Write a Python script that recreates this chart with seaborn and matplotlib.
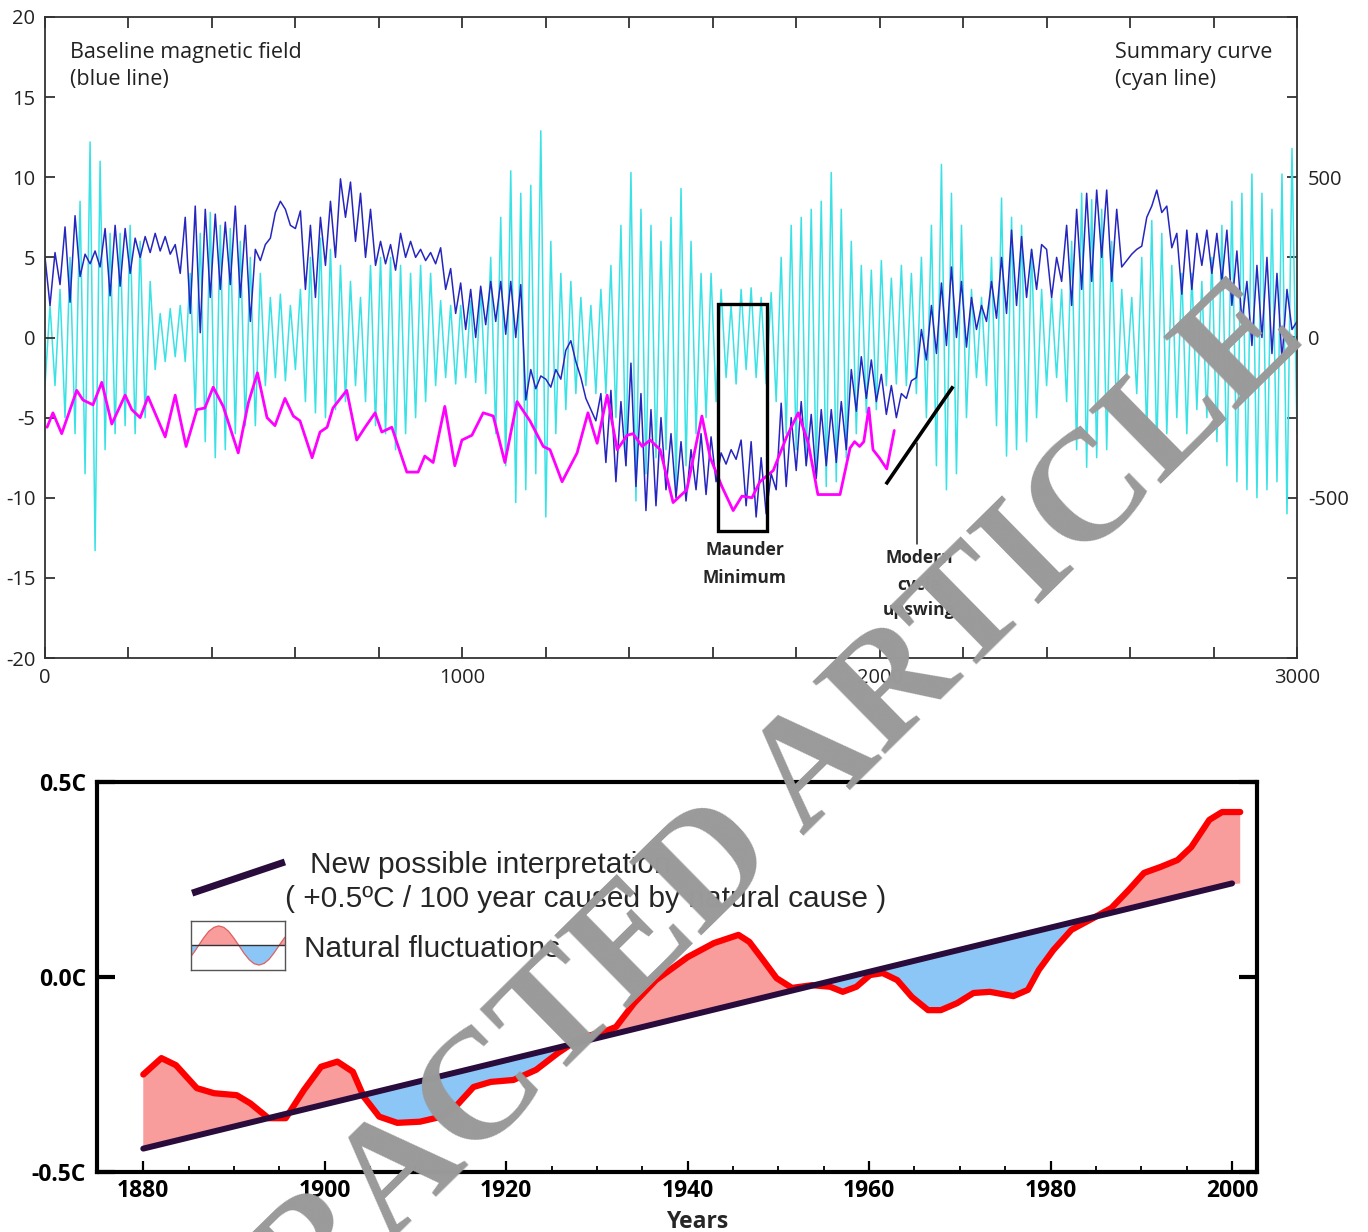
import numpy as np
import matplotlib
matplotlib.use("Agg")
import matplotlib.pyplot as plt
from matplotlib.patches import Rectangle
from matplotlib.lines import Line2D
import seaborn as sns

# ---------------- top panel data ----------------
STEP = 12  # sampling interval of the two oscillating curves (x units)

blue_field = [
    5, 2, 5.3, 3.3, 6.9, 2.2, 7.6, 3.8, 5.2, 4.6, 5.4, 4.4, 6.8, 2.6, 7, 3.2, 6.8, 4, 6.2, 5, 6.3, 5.3, 6.5, 5.4, 6.3,
    5.2, 5.8, 4, 7.5, 1.5, 8.2, 0.3, 8, 2.5, 7.7, 3, 7.2, 3.3, 8.2, 2.5, 7, 1, 5.5, 4.8, 5.8, 6.2, 7.8, 8.5, 8, 7,
    6.8, 7.9, 3, 7, 2.5, 7.5, 4.5, 8.5, 5, 9.9, 7.5, 9.7, 6, 9, 5, 8, 4.5, 6, 4.6, 5.8, 4.2, 6.5, 5, 6, 5,
    5.5, 4.8, 5.3, 4.6, 5.6, 3, 4.3, 1.5, 3.4, 0.5, 3, 0, 3.2, 0.8, 3.5, 1, 3.5, 0.2, 3.5, 0, 3.3, -3.9, -2, -3.2, -2.4,
    -2.6, -3.1, -2, -2.6, -0.8, -0.2, -1.5, -2.5, -3.8, -4.5, -5.2, -3.5, -7.8, -3.3, -9, -4, -8, -1.6, -9.3, -3.5, -10.8, -4.5, -10.5, -5, -9.5,
    -6, -10, -6.5, -10.2, -7, -9.5, -6, -9.8, -6.2, -9, -7.2, -7.9, -7, -7.6, -6.4, -10.5, -6.5, -11.2, -7.5, -11, -8.5, -9.5, -4.1, -9.3, -5,
    -8.3, -4, -8, -4.8, -8.8, -4.5, -8, -4.5, -7.8, -4, -7, -2, -4.6, -1.2, -3.8, -1.4, -4, -2.3, -4.8, -3, -5, -3.5, -3.8, -2.7, -2.5,
    0.5, -1.4, 2, -1, 3.4, -0.5, 4.4, 0, 3.5, -0.6, 2.5, 0.5, 2, 1, 3.5, 1.2, 5, 1.5, 6.7, 2, 6.3, 2.5, 5.5, 3, 5.8,
    5.5, 2.5, 5, 3.5, 7, 2, 8, 3, 9, 3.5, 9.2, 5, 9.2, 3.5, 8, 4.4, 4.8, 5.2, 5.5, 5.7, 7.5, 8.2, 9.2, 7.8, 8.2,
    5.6, 6.5, 2.7, 6.7, 3, 6.5, 4.5, 6.7, 4, 6.5, 3.5, 6.7, 2, 5.4, 1, 3.5, -0.5, 4.5, 0, 5, -1, 4, -1.4, 3, 0.5,
    1,
]

cyan_summary = [
    -150, 100, -150, 150, -250, 250, -300, 425, -425, 610, -665, 550, -350, 325, -300, 325, -275, 350, -300, 300, -250, 175, -100, 75, -75,
    90, -60, 100, -75, 200, -225, 325, -325, 390, -375, 350, -350, 340, -300, 300, -275, 250, -275, 200, -150, 125, -125, 135, -135, 100,
    -100, 150, -200, 250, -235, 310, -250, 275, -225, 225, -200, 175, -150, 125, -200, 225, -275, 250, -300, 250, -350, 225, -300, 200, -250,
    225, -200, 200, -150, 115, -125, 100, -145, 100, -125, 115, -140, 150, -175, 250, -300, 375, -400, 520, -515, 450, -475, 475, -425, 645,
    -560, 300, -300, 200, -225, 175, -175, 125, -150, 100, -175, 150, -175, 225, -250, 350, -400, 515, -510, 400, -425, 350, -375, 300, -350,
    375, -470, 465, -400, 300, -300, 200, -250, 200, -200, 150, -125, 100, -145, 150, -100, 155, -125, 125, -145, 140, -200, 250, -300, 350,
    -350, 375, -400, 400, -425, 425, -465, 515, -450, 400, -375, 300, -300, 225, -235, 210, -225, 240, -150, 185, -145, 225, -150, 200, -175,
    250, -250, 350, -400, 540, -475, 450, -425, 350, -250, 150, -125, 125, -150, 250, -275, 435, -370, 375, -350, 350, -325, 275, -250, 150,
    -150, 125, -125, 150, -200, 300, -350, 450, -405, 430, -375, 400, -350, 300, -250, 150, -125, 125, -175, 250, -300, 365, -350, 325, -300,
    225, -250, 200, -300, 200, -225, 175, -250, 250, -325, 350, -400, 425, -450, 450, -475, 510, -500, 450, -475, 400, -450, 510, -550, 590,
    -300,
]

magenta_x = [5, 19, 40, 76, 91, 115, 136, 160, 192, 208, 228, 247, 288, 312, 338, 364, 383, 403, 427, 463,
             487, 509, 532, 551, 575, 595, 611, 640, 659, 676, 690, 723, 747, 767, 791, 807, 831, 867, 894, 910,
             930, 958, 982, 999, 1023, 1050, 1074, 1102, 1131, 1162, 1194, 1210, 1239, 1275, 1301, 1323, 1347,
             1371, 1395, 1409, 1431, 1450, 1474, 1505, 1538, 1574, 1594, 1622, 1649, 1670, 1694, 1713, 1745,
             1777, 1805, 1829, 1852, 1905, 1929, 1940, 1952, 1962, 1974, 1984, 1999, 2017, 2035]
magenta_y = [-5.6, -4.7, -6.0, -3.3, -3.9, -4.2, -2.8, -5.4, -3.6, -4.5, -5.0, -3.7, -6.2, -3.6, -6.8, -4.5,
             -4.4, -3.1, -4.3, -7.2, -4.1, -2.2, -5.0, -5.5, -3.8, -4.9, -5.2, -7.5, -5.9, -5.6, -4.4, -3.3,
             -6.4, -5.6, -4.7, -5.9, -5.6, -8.4, -8.4, -7.4, -7.8, -4.3, -8.0, -6.4, -6.1, -4.7, -4.9, -7.8,
             -4.0, -5.2, -6.8, -7.0, -9.0, -7.2, -4.7, -6.6, -3.6, -7.0, -6.1, -6.0, -6.8, -6.4, -7.0, -10.3,
             -9.5, -4.9, -7.5, -9.3, -10.8, -9.9, -10.0, -9.0, -8.3, -6.2, -4.7, -6.6, -9.8, -9.8, -6.9, -6.5,
             -6.8, -6.5, -4.4, -7.0, -7.5, -8.2, -5.8]

top_xticks = list(range(0, 3001, 200))
top_xlabels = ['0', '1000', '2000', '3000']
left_yticks = list(range(-20, 21, 5))
right_yticks = list(range(-1000, 1001, 250))
right_ylabels = ['-500', '0', '500']

# ---------------- bottom panel data ----------------
years = [1880, 1882, 1883.6, 1885.9, 1887.8, 1890.3, 1891.8, 1893.8, 1895.7, 1897.7, 1899.6, 1901.4, 1903.1,
         1904.3, 1906, 1908, 1910.5, 1912.9, 1914.4, 1916.4, 1918.3, 1920.8, 1923.3, 1925.7, 1928.2, 1930.7,
         1932.1, 1934.1, 1936.5, 1940, 1942.9, 1945.6, 1946.8, 1948.3, 1949.8, 1951.5, 1953.7, 1955.7, 1957.1,
         1958.6, 1960.1, 1961.5, 1963.1, 1964.7, 1966.5, 1967.9, 1969.7, 1971.5, 1973.3, 1975.9, 1977.5, 1978.7,
         1980.3, 1982.3, 1984.7, 1986.7, 1988.6, 1990.3, 1992.1, 1994, 1995.5, 1997.5, 1998.9, 2000.9]
temps = [-0.25, -0.208, -0.226, -0.285, -0.298, -0.303, -0.324, -0.362, -0.362, -0.29, -0.23, -0.217, -0.243,
         -0.307, -0.358, -0.374, -0.371, -0.358, -0.333, -0.282, -0.269, -0.264, -0.238, -0.195, -0.156, -0.141,
         -0.128, -0.067, -0.008, 0.051, 0.087, 0.108, 0.09, 0.044, -0.003, -0.028, -0.021, -0.025, -0.038,
         -0.025, 0.005, 0.01, -0.008, -0.051, -0.085, -0.085, -0.067, -0.041, -0.038, -0.049, -0.033, 0.018,
         0.069, 0.121, 0.151, 0.177, 0.223, 0.267, 0.282, 0.3, 0.333, 0.403, 0.423, 0.423]
trend_years = [1880, 2000]
trend_vals = [-0.44, 0.24]
bottom_xticks = [1880, 1900, 1920, 1940, 1960, 1980, 2000]
bottom_xlabels = ['1880', '1900', '1920', '1940', '1960', '1980', '2000']
bottom_yticks = [-0.5, 0.0, 0.5]
bottom_ylabels = ['-0.5C', '0.0C', '0.5C']

# legend glyph outline (one wave)
icon_x = [0.0, 0.04, 0.081, 0.135, 0.19, 0.245, 0.295, 0.35, 0.40, 0.455, 0.51, 0.565, 0.62, 0.67,
          0.725, 0.78, 0.83, 0.885, 0.938, 0.97, 1.0]
icon_y = [-0.45, -0.24, 0.0, 0.31, 0.58, 0.74, 0.8, 0.74, 0.58, 0.31, 0.0, -0.32, -0.58, -0.74,
          -0.8, -0.73, -0.57, -0.3, 0.0, 0.18, 0.34]

# ---------------- style ----------------
sns.set_style("white")
plt.rcParams['font.family'] = ['Open Sans', 'DejaVu Sans']
plt.rcParams['axes.linewidth'] = 1.3

C_CYAN = '#3ae2e6'
C_BLUE = '#2626bf'
C_MAG = '#ff00ff'
C_RED = '#ff0000'
C_TREND = '#2a0c3c'
C_POS = '#f89c9c'
C_NEG = '#8cc6f7'

fig = plt.figure(figsize=(13.68, 12.32), dpi=100)
fig.patch.set_facecolor('white')

# ================= top panel =================
ax1 = fig.add_axes([45 / 1368, 1 - 658 / 1232, (1297 - 45) / 1368, (658 - 17) / 1232])
ax2 = ax1.twinx()
ax1.set_zorder(2)
ax2.set_zorder(1)
ax1.patch.set_visible(False)

sample_x = np.arange(len(blue_field)) * STEP

sns.lineplot(x=sample_x, y=cyan_summary, ax=ax2, color=C_CYAN, linewidth=1.1,
             estimator=None, sort=False)
sns.lineplot(x=sample_x, y=blue_field, ax=ax1, color=C_BLUE, linewidth=1.1,
             estimator=None, sort=False)
sns.lineplot(x=magenta_x, y=magenta_y, ax=ax1, color=C_MAG, linewidth=2.0,
             estimator=None, sort=False)

ax1.set_xlim(0, 3000)
ax1.set_ylim(-20, 20)
ax2.set_ylim(-1000, 1000)
ax1.set_xlabel('')
ax1.set_ylabel('')
ax2.set_ylabel('')

ax1.set_xticks(top_xticks)
ax1.set_xticklabels([str(t) if t % 1000 == 0 else '' for t in top_xticks])
ax1.set_yticks(left_yticks)
ax1.set_yticklabels([str(t) for t in left_yticks])
ax2.set_yticks(right_yticks)
ax2.set_yticklabels([str(t) if str(t) in right_ylabels else '' for t in right_yticks])

ax1.tick_params(axis='x', direction='in', top=True, bottom=True, length=8, width=1.3,
                labelsize=14.5, pad=7, colors='#333333', labelcolor='#222222')
ax1.tick_params(axis='y', direction='in', left=True, right=False, length=7, width=1.3,
                labelsize=14.5, pad=7, colors='#333333', labelcolor='#222222')
ax2.tick_params(axis='y', direction='in', right=True, length=7, width=1.3,
                labelsize=14.5, pad=8, colors='#333333', labelcolor='#222222')
for s in ax1.spines.values():
    s.set_color('#333333')
    s.set_linewidth(1.3)
for s in ax2.spines.values():
    s.set_visible(False)

ax1.text(0.02, 0.936, 'Baseline magnetic field', transform=ax1.transAxes, fontsize=15.5,
         ha='left', va='baseline', color='#222222')
ax1.text(0.02, 0.894, '(blue line)', transform=ax1.transAxes, fontsize=15.5,
         ha='left', va='baseline', color='#222222')
ax1.text(0.8546, 0.936, 'Summary curve', transform=ax1.transAxes, fontsize=15.5,
         ha='left', va='baseline', color='#222222')
ax1.text(0.8546, 0.894, '(cyan line)', transform=ax1.transAxes, fontsize=15.5,
         ha='left', va='baseline', color='#222222')

# Maunder minimum box and labels
ax1.add_patch(Rectangle((1613, -12.1), 117, 14.2, fill=False, edgecolor='black', linewidth=2.4, zorder=6))
ax1.text(1677, -13.6, 'Maunder', fontsize=12.5, fontweight='bold', ha='center', va='baseline', zorder=6)
ax1.text(1677, -15.3, 'Minimum', fontsize=12.5, fontweight='bold', ha='center', va='baseline', zorder=6)

# modern cycle upswing marker
ax1.plot([2015, 2176], [-9.16, -3.05], color='black', linewidth=2.6, solid_capstyle='butt', zorder=6)
ax1.plot([2090, 2090], [-6.6, -12.9], color='#222222', linewidth=1.1, zorder=6)
ax1.text(2094, -14.1, 'Modern', fontsize=12.5, fontweight='bold', ha='center', va='baseline', zorder=6)
ax1.text(2094, -15.75, 'cycle', fontsize=12.5, fontweight='bold', ha='center', va='baseline', zorder=6)
ax1.text(2094, -17.3, 'upswing', fontsize=12.5, fontweight='bold', ha='center', va='baseline', zorder=6)

# ================= bottom panel =================
ax3 = fig.add_axes([97 / 1368, 1 - 1172 / 1232, (1257 - 97) / 1368, (1172 - 782) / 1232])

yrs = np.array(years)
tmp = np.array(temps)
trend_at = np.interp(yrs, trend_years, trend_vals)
ax3.fill_between(yrs, tmp, trend_at, where=tmp >= trend_at, interpolate=True,
                 color=C_POS, linewidth=0, zorder=1)
ax3.fill_between(yrs, tmp, trend_at, where=tmp <= trend_at, interpolate=True,
                 color=C_NEG, linewidth=0, zorder=1)
sns.lineplot(x=years, y=temps, ax=ax3, color=C_RED, linewidth=4.5, estimator=None,
             sort=False, solid_joinstyle='round', solid_capstyle='round', zorder=3)
sns.lineplot(x=trend_years, y=trend_vals, ax=ax3, color=C_TREND, linewidth=4.3,
             estimator=None, sort=False, zorder=4)

ax3.set_xlim(1874.9, 2002.75)
ax3.set_ylim(-0.5, 0.5)
ax3.set_ylabel('')
ax3.set_xticks(bottom_xticks)
ax3.set_xticklabels(bottom_xlabels, fontsize=16.5, fontweight='bold')
ax3.set_xticks([y for y in range(1880, 2001, 5) if y % 20 != 0], minor=True)
ax3.set_yticks(bottom_yticks)
ax3.set_yticklabels(bottom_ylabels, fontsize=16.5, fontweight='bold')
ax3.tick_params(axis='x', which='major', direction='in', bottom=True, top=False, length=8,
                width=1.6, pad=5, colors='black')
ax3.tick_params(axis='x', which='minor', direction='in', bottom=True, top=False, length=4.5,
                width=1.3, colors='black')
ax3.tick_params(axis='y', direction='in', left=True, right=True, length=13, width=3,
                pad=8, colors='black')
for s in ax3.spines.values():
    s.set_color('black')
    s.set_linewidth(3)
ax3.set_xlabel('Years', fontsize=16.5, fontweight='bold')
ax3.xaxis.set_label_coords(0.517, -0.098)

# legend drawn inside the panel
LEG_FONT = ['Liberation Sans', 'DejaVu Sans']
ax3.add_line(Line2D([0.082, 0.162], [0.715, 0.795], transform=ax3.transAxes,
                    color=C_TREND, linewidth=5, solid_capstyle='butt', zorder=5))
ax3.text(0.1836, 0.7667, 'New possible interpretation', transform=ax3.transAxes,
         fontsize=21.5, family=LEG_FONT, ha='left', va='baseline', zorder=5)
ax3.text(0.1621, 0.6795, '( +0.5ºC / 100 year caused by natural cause )', transform=ax3.transAxes,
         fontsize=21.5, family=LEG_FONT, ha='left', va='baseline', zorder=5)
ax3.text(0.1784, 0.5513, 'Natural fluctuations', transform=ax3.transAxes,
         fontsize=21.5, family=LEG_FONT, ha='left', va='baseline', zorder=5)

icon = ax3.inset_axes([0.081, 0.518, 0.081, 0.1256])
ix = np.array(icon_x)
iy = np.array(icon_y)
icon.fill_between(ix, iy, 0, where=iy >= 0, interpolate=True, color=C_POS, linewidth=0)
icon.fill_between(ix, iy, 0, where=iy <= 0, interpolate=True, color=C_NEG, linewidth=0)
icon.plot(ix, iy, color='#e06060', linewidth=0.9)
icon.axhline(0, color='#333333', linewidth=1.0)
icon.set_xlim(0, 1)
icon.set_ylim(-1, 1)
icon.set_xticks([])
icon.set_yticks([])
for s in icon.spines.values():
    s.set_color('#555555')
    s.set_linewidth(1.0)

# ================= watermark =================
fig.text(0.4876, 0.2565, 'RETRACTED ARTICLE', rotation=44.5, rotation_mode='anchor',
         ha='center', va='center', fontsize=113, fontweight='bold',
         family=['Liberation Serif', 'DejaVu Serif'], color='#9a9a9a', zorder=100)

fig.savefig('out.png', dpi=100, facecolor='white')
